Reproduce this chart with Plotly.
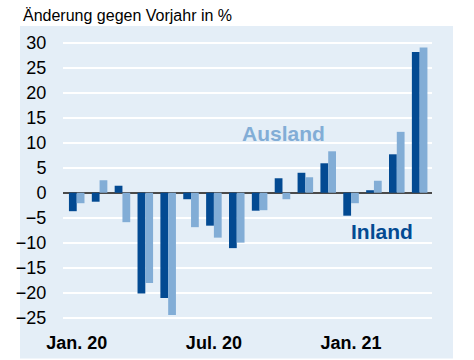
import plotly.graph_objects as go

months = ["2020-01", "2020-02", "2020-03", "2020-04", "2020-05", "2020-06",
          "2020-07", "2020-08", "2020-09", "2020-10", "2020-11", "2020-12",
          "2021-01", "2021-02", "2021-03", "2021-04"]
inland = [-3.7, -1.8, 1.4, -20.2, -21.1, -1.3, -6.6, -11.1, -3.6, 2.9, 4.0, 5.9,
          -4.6, 0.5, 7.7, 28.2]
ausland = [-2.1, 2.5, -5.9, -18.1, -24.5, -6.9, -9.0, -10.0, -3.5, -1.3, 3.1, 8.3,
           -2.1, 2.4, 12.2, 29.1]
tick_months = ["2020-01", "2020-07", "2021-01"]
tick_text = ["Jan. 20", "Jul. 20", "Jan. 21"]
y_ticks = [30, 25, 20, 15, 10, 5, 0, -5, -10, -15, -20, -25]

DARK = "#034a92"
LIGHT = "#82add6"
BG = "#e4eef7"
FONT = "Liberation Sans, Arial, sans-serif"

fig = go.Figure()
fig.add_trace(go.Bar(x=months, y=inland, name="Inland", marker_color=DARK,
                     marker_line_width=0))
fig.add_trace(go.Bar(x=months, y=ausland, name="Ausland", marker_color=LIGHT,
                     marker_line_width=0))

W, H = 474, 360
L, R, T, B = 63, 42, 38, 34.5
pw, ph = W - L - R, H - T - B


def px(x):
    return (x - L) / pw


def py(y):
    return (H - B - y) / ph


fig.update_layout(
    width=W, height=H,
    margin=dict(l=L, r=R, t=T, b=B, pad=0, autoexpand=False),
    paper_bgcolor="white",
    plot_bgcolor="rgba(0,0,0,0)",
    barmode="group",
    bargap=0.32,
    bargroupgap=0,
    showlegend=False,
    font=dict(family=FONT, color="black"),
    shapes=[dict(type="rect", xref="paper", yref="paper",
                 x0=px(20), x1=px(453), y0=py(359), y1=py(26),
                 fillcolor=BG, line_width=0, layer="below")],
    annotations=[
        dict(text="Änderung gegen Vorjahr in %", xref="paper", yref="paper",
             x=px(21), y=py(15), xanchor="left", yanchor="middle",
             showarrow=False, font=dict(size=16, color="black", family=FONT)),
        dict(text="<b>Ausland</b>", x=9.06, y=11.8, xref="x", yref="y",
             showarrow=False, font=dict(size=21, color=LIGHT, family=FONT)),
        dict(text="<b>Inland</b>", x=13.35, y=-7.8, xref="x", yref="y",
             showarrow=False, font=dict(size=21, color=DARK, family=FONT)),
    ],
)
fig.update_xaxes(
    type="category", automargin=False,
    range=[-0.6, 15.54],
    tickvals=tick_months, ticktext=["<b>%s</b>" % t for t in tick_text],
    tickfont=dict(size=18, family=FONT, color="black"),
    showgrid=False, showline=False, zeroline=False,
    ticks="outside", ticklen=1, tickcolor="rgba(0,0,0,0)",
)
fig.update_yaxes(
    automargin=False,
    range=[-26.5, 31],
    tickvals=y_ticks,
    tickfont=dict(size=18, family=FONT, color="black"),
    showgrid=True, gridcolor="white", gridwidth=2,
    zeroline=True, zerolinecolor="#4a4a4a", zerolinewidth=1.5,
    showline=False,
    ticks="outside", ticklen=12, tickcolor="rgba(0,0,0,0)",
)

fig.write_html("out.html", config={"displayModeBar": False},
               post_script="document.body.style.margin='0';document.body.style.padding='0';")
